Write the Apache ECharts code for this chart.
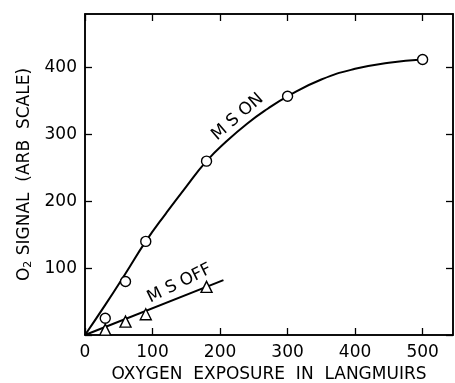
<!DOCTYPE html>
<html>
<head>
<meta charset="utf-8">
<script src="https://cdn.jsdelivr.net/npm/echarts@6/dist/echarts.min.js"></script>
<style>
  html, body { margin: 0; padding: 0; background: #fff; }
  #chart { width: 455px; height: 383px; }
</style>
</head>
<body>
<div id="chart"></div>
<script>
// tick values
var xTicks = [0, 100, 200, 300, 400, 500];
var yTicks = [0, 100, 200, 300, 400];

// measured points, MS ON (circles)
var onX = [30, 60, 90, 180, 300, 500];
var onY = [25, 80, 140, 260, 357, 412];
// measured points, MS OFF (triangles)
var offX = [30, 60, 90, 180];
var offY = [8, 20, 31, 72];

// hand drawn curve through MS ON points
var onCurveX = [0, 30, 60, 90, 120, 150, 180, 210, 240, 270, 300, 350, 400, 450, 500];
var onCurveY = [0, 45, 92, 140, 182, 222, 260, 290, 316, 338, 357, 382, 398, 407, 412];
// straight line for MS OFF
var offLineX = [0, 205];
var offLineY = [0, 82];

// curve labels
var labelOn = { text: 'M S ON', x: 226, y: 326, angle: 41 };
var labelOff = { text: 'M S OFF', x: 140, y: 77, angle: 26 };

function pairs(xs, ys) {
    return xs.map(function (x, i) { return [x, ys[i]]; });
}

var font = 'DejaVu Sans';
var myChart = echarts.init(document.getElementById('chart'));

// fresh object each time, echarts does not like shared sub objects
function makeAxis(max, ticks, position, label) {
    return {
        type: 'value',
        min: 0,
        max: max,
        position: position,
        splitLine: { show: false },
        axisLine: { show: true, onZero: false, lineStyle: { color: '#000', width: 1.5 } },
        axisTick: { show: true, inside: true, length: 7, customValues: ticks.slice(), lineStyle: { color: '#000', width: 1.3 } },
        axisLabel: label || { show: false }
    };
}

var xBottom = makeAxis(545, xTicks, 'bottom', {
    show: true, customValues: xTicks.slice(), margin: 9, color: '#000', fontFamily: font, fontSize: 17
});
xBottom.name = 'OXYGEN  EXPOSURE  IN  LANGMUIRS';
xBottom.nameLocation = 'middle';
xBottom.nameGap = 30;
xBottom.nameTextStyle = { color: '#000', fontFamily: font, fontSize: 17 };

var yLeft = makeAxis(480, yTicks, 'left', {
    show: true, customValues: yTicks.filter(function (v) { return v > 0; }),
    margin: 8, color: '#000', fontFamily: font, fontSize: 17
});
yLeft.name = '{o|O}{s|2}{o| SIGNAL  (ARB  SCALE)}';
yLeft.nameLocation = 'middle';
yLeft.nameRotate = 90;
yLeft.nameGap = 48;
yLeft.nameTextStyle = {
    color: '#000',
    rich: {
        o: { color: '#000', fontFamily: font, fontSize: 17 },
        s: { color: '#000', fontFamily: font, fontSize: 11, padding: [8, 0, 0, 0] }
    }
};

var option = {
    backgroundColor: '#fff',
    animation: false,
    grid: {
        left: 85, right: 2, top: 14, bottom: 48, outerBoundsMode: 'none',
        show: true, borderColor: '#000', borderWidth: 1.5
    },
    xAxis: [xBottom, makeAxis(545, xTicks, 'top')],
    yAxis: [yLeft, makeAxis(480, yTicks, 'right')],
    series: [
        {
            name: 'MS ON curve',
            type: 'line',
            smooth: true,
            showSymbol: false,
            symbol: 'none',
            lineStyle: { color: '#000', width: 2 },
            data: pairs(onCurveX, onCurveY),
            z: 2
        },
        {
            name: 'MS OFF line',
            type: 'line',
            showSymbol: false,
            symbol: 'none',
            lineStyle: { color: '#000', width: 2 },
            data: pairs(offLineX, offLineY),
            z: 2
        },
        {
            name: 'MS ON',
            type: 'scatter',
            symbol: 'circle',
            symbolSize: 10,
            itemStyle: { color: '#fff', opacity: 1, borderColor: '#000', borderWidth: 1.4 },
            data: pairs(onX, onY),
            z: 3
        },
        {
            name: 'MS OFF',
            type: 'scatter',
            symbol: 'triangle',
            symbolSize: 11,
            itemStyle: { color: '#fff', opacity: 1, borderColor: '#000', borderWidth: 1.4 },
            data: pairs(offX, offY),
            z: 3
        },
        {
            name: 'labels',
            type: 'scatter',
            symbolSize: 0,
            silent: true,
            itemStyle: { opacity: 1 },
            data: [labelOn, labelOff].map(function (l) {
                return {
                    value: [l.x, l.y],
                    label: {
                        show: true,
                        position: 'inside',
                        formatter: l.text,
                        rotate: l.angle,
                        color: '#000',
                        fontFamily: font,
                        fontSize: 17
                    }
                };
            })
        }
    ]
};

myChart.setOption(option);
</script>
</body>
</html>
